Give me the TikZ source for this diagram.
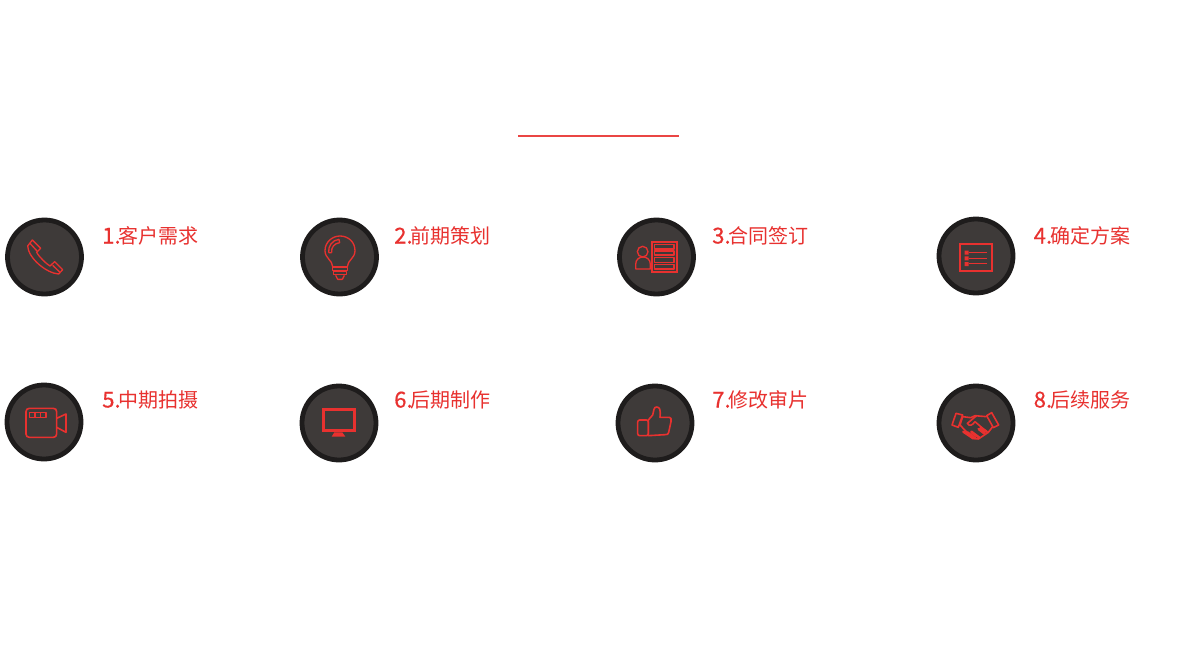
\documentclass[tikz,border=0pt]{standalone}
\usepackage{fontspec}
\newfontfamily\cjk{Noto Sans CJK SC}
\newfontfamily\cjkd[FakeBold=0.5]{Noto Sans CJK SC}
\newcommand{\numlab}[1]{{\cjkd\fontsize{16.5}{16.5}\selectfont #1.}\kern-1.3pt}
\definecolor{ringc}{HTML}{1E1C1C}
\definecolor{fillc}{HTML}{3E3A39}
\definecolor{redc}{HTML}{E8312F}
\tikzset{
 badge/.style={circle,draw=ringc,fill=fillc,line width=3.6pt,inner sep=0pt,outer sep=0pt,minimum size=55.5pt},
 lab/.style={anchor=base west,inner sep=0pt,text=redc,font=\cjk\fontsize{15}{15}\selectfont},
 ico/.style={draw=redc,line width=1pt,line join=round,fill=none},
 icob/.style={draw=redc,line width=1.9pt,line join=miter,fill=none},
 icof/.style={fill=redc,draw=none},
 zoomed/.style={x=0.25pt,y=-0.25pt}
}
\begin{document}
\begin{tikzpicture}[x=0.75pt,y=-0.75pt]
\useasboundingbox (0,0) rectangle (1203,646);
\fill[white] (0,0) rectangle (1203,646);
\coordinate (ruleL) at (518,136);
\coordinate (ruleR) at (679,136);
\draw[draw=redc!90!white,line width=1.5pt] (ruleL) -- (ruleR);
\node[badge] (c1) at (44.5,257) {};
\node[badge] (c2) at (339.5,257) {};
\node[badge] (c3) at (656.5,257) {};
\node[badge] (c4) at (976,256) {};
\node[badge] (c5) at (44,422) {};
\node[badge] (c6) at (339,423) {};
\node[badge] (c7) at (655,423) {};
\node[badge] (c8) at (976,423) {};
\node[lab] (t1) at (102,243.5) {\numlab{1}客户需求};
\node[lab] (t2) at (394,243.5) {\numlab{2}前期策划};
\node[lab] (t3) at (712,243.5) {\numlab{3}合同签订};
\node[lab] (t4) at (1033.5,243.5) {\numlab{4}确定方案};
\node[lab] (t5) at (102,407.5) {\numlab{5}中期拍摄};
\node[lab] (t6) at (394,407.5) {\numlab{6}后期制作};
\node[lab] (t7) at (712,407.5) {\numlab{7}修改审片};
\node[lab] (t8) at (1033.5,407.5) {\numlab{8}后续服务};
% phone
\begin{scope}[shift={(0,210)},zoomed]
\draw[ico] (97,90)--(122,115)--(110,127) .. controls (118,142) and (140,162) .. (150,168) -- (164,155) -- (188,179) -- (176,192) .. controls (140,190) and (85,145) .. (83,108) -- cycle;
\draw[ico] (90,100)--(112,124) (158,166)--(180,187);
\end{scope}
% bulb
\begin{scope}[shift={(295,210)},zoomed]
\draw[ico] (113,170) .. controls (112,150) and (90,145) .. (90,122) .. controls (90,96) and (112,78) .. (135,78) .. controls (160,78) and (180,96) .. (180,122) .. controls (180,145) and (158,150) .. (157,170) -- cycle;
\draw[ico] (101,128) .. controls (99,108) and (112,90) .. (132,88) (110,128) .. controls (108,112) and (118,100) .. (134,98) (101,128)--(110,128) (132,88)--(134,98);
\draw[ico] (112,172) rectangle (158,181) (115,185) rectangle (155,194);
\draw[ico] (122,196) -- (128,208) -- (142,208) -- (148,196);
\end{scope}
% contract
\begin{scope}[shift={(610,210)},zoomed]
\draw[icob,line width=1.5pt] (127,97) rectangle (200,187);
\draw[ico,line width=0.9pt] (134,103) rectangle (192,117) (134,123) rectangle (192,135) (134,143) rectangle (192,157) (134,163) rectangle (192,177);
\draw[ico] (98,125) circle[radius=16];
\draw[ico] (77,177) -- (77,163) .. controls (77,148) and (88,141) .. (99,141) .. controls (110,141) and (121,148) .. (121,163) -- (121,177) -- cycle;
\end{scope}
% list
\begin{scope}[shift={(930,210)},zoomed]
\draw[icob,line width=1.6pt] (90,103) rectangle (185,183);
\fill[icof] (104,122) rectangle (116,134) (104,139) rectangle (116,151) (104,156) rectangle (116,168);
\draw[ico] (118,128)--(172,128) (118,145)--(172,145) (118,161)--(172,161);
\end{scope}
% camera
\begin{scope}[shift={(0,375)},zoomed]
\draw[ico,line width=1.2pt] (88,100) -- (160,100) .. controls (166,100) and (170,104) .. (170,110) -- (170,177) .. controls (170,183) and (166,187) .. (160,187) -- (88,187) .. controls (82,187) and (78,183) .. (78,177) -- (78,110) .. controls (78,104) and (82,100) .. (88,100) -- cycle;
\draw[ico] (88,113) rectangle (138,127) (105,113)--(105,127) (121,113)--(121,127);
\draw[ico,line width=1.2pt] (170,130)--(198,117)--(198,172)--(170,157);
\end{scope}
% monitor
\begin{scope}[shift={(295,375)},zoomed]
\draw[icob] (85,103) rectangle (178,167);
\fill[icof] (118,172)--(142,172)--(151,185)--(110,185)--cycle;
\end{scope}
% thumb
\begin{scope}[shift={(610,375)},zoomed]
\draw[ico,line width=1.2pt,rounded corners=1.5pt] (83,135) rectangle (115,182);
\draw[ico,line width=1.2pt] (115,182) -- (115,135) -- (128,120) .. controls (132,108) and (130,96) .. (140,96) .. controls (150,96) and (152,105) .. (150,127) -- (178,127) .. controls (184,127) and (184,132) .. (183,140) -- (176,172) .. controls (175,178) and (172,179) .. (165,179) -- cycle;
\end{scope}
% handshake
\begin{scope}[shift={(930,375)},zoomed]
\draw[ico,line width=1.2pt] (78,115)--(98,120)--(85,157)--(66,150)--cycle;
\draw[ico,line width=1.2pt] (185,113)--(206,150)--(190,158)--(170,122)--cycle;
\draw[ico,line width=1.2pt] (98,125)--(122,128)--(135,122)--(170,125) (98,125)--(90,150)--(128,190)--(145,192)--(175,172)--(188,155);
\draw[ico,line width=1.2pt] (140,122)--(112,145) .. controls (118,156) and (128,150) .. (135,140) -- (172,172);
\draw[redc,line width=1.9pt,line cap=round] (100,170)--(130,190) (112,172)--(136,190) (124,170)--(148,188) (146,162)--(164,176) (152,158)--(170,170);
\end{scope}
\end{tikzpicture}
\end{document}
